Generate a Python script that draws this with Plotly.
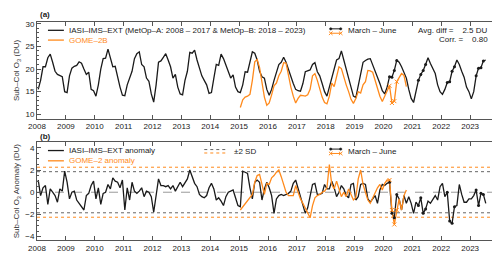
import plotly.graph_objects as go

# ---------------- data ----------------
years = list(range(2008, 2024))
iasi_start = 2008
gome_start = 2015

iasi_col = [
    15.5, 17.5, 20.5, 20.5, 22.5, 23.3, 21.5, 19.5, 18.8, 18.5, 18.3, 15.0,
    14.8, 18.5, 20.2, 20.6, 20.8, 21.6, 21.3, 20.0, 18.8, 19.3, 15.5, 15.2,
    14.0, 16.5, 20.0, 22.3, 22.4, 24.4, 22.5, 20.5, 20.6, 18.0, 16.0, 14.2,
    14.1, 16.5, 18.2, 19.5, 22.3, 23.4, 23.8, 21.0, 20.5, 18.0, 17.3, 14.5,
    12.7, 16.5, 21.5, 21.8, 22.6, 23.4, 22.0, 20.5, 18.0, 18.8, 16.0, 14.5,
    14.3, 17.5, 19.5, 23.7, 23.5, 24.2, 22.0, 20.2, 18.5, 17.5, 16.5, 14.6,
    14.8, 18.0, 21.0, 20.8, 23.3, 22.3, 21.0, 19.5, 18.0, 18.7, 16.0, 15.0,
    14.8, 16.5, 19.4, 19.3, 21.5, 23.8, 23.5, 22.0, 19.5, 18.3, 18.0, 15.5,
    14.2, 15.5, 17.5, 19.5, 21.0, 21.5, 22.6, 21.5, 19.8, 18.0, 16.8, 15.5,
    15.2, 15.1, 16.8, 19.4, 19.6, 19.8, 21.0, 21.4, 19.4, 18.5, 16.8, 15.0,
    14.0, 16.0, 18.0, 19.8, 22.0, 22.3, 24.0, 22.0, 19.7, 18.0, 16.0, 14.0,
    13.7, 16.5, 19.5, 21.5, 21.9, 22.2, 22.3, 21.0, 19.5, 18.0, 16.8, 15.2,
    14.5, 16.0, 18.3, 18.2, 19.7, 21.9, 21.5, 20.5, 19.3, 18.0, 15.5, 13.5,
    12.6, 15.0, 17.5, 18.8, 19.7, 21.0, 22.5, 21.2, 20.0, 19.0, 16.5, 15.0,
    14.4, 15.5, 17.0, 17.2, 19.5, 20.5, 22.0, 21.0, 19.5, 18.2, 16.0, 15.0,
    13.4, 15.0, 18.5, 20.2, 20.3, 21.8, 22.0,
]

gome_col = [
    11.5, 13.2, 13.8, 14.0, 14.4, 17.5, 21.6, 22.1, 20.3, 16.5, 13.8, 12.0,
    12.5, 14.3, 16.3, 16.9, 18.5, 19.5, 21.4, 21.3, 18.5, 16.0, 14.0, 12.5,
    13.5, 14.2, 14.1, 14.0, 14.3, 15.5, 18.5, 19.0, 17.5, 15.5, 13.8, 12.6,
    12.3, 14.0, 16.9, 16.1, 18.3, 20.5, 20.1, 18.0, 16.5, 15.0, 13.3, 12.4,
    13.5, 15.0, 14.7, 16.5, 17.2, 19.7, 19.6, 19.3, 17.5, 15.8, 14.0, 12.8,
    14.0, 15.4, 16.3, 12.5, 12.9, 17.2, 18.0, 19.0, 18.6, 16.1,
]

iasi_anom = [
    1.1, -0.3, 0.4, 0.6, -1.1, 0.3, 0.0, -0.3, -0.9, 0.3, 0.1, 1.9,
    0.9, -0.6, 0.0, 0.1, -0.7, -1.0, -1.3, -1.6, -0.3, -0.1, 0.6, 1.0,
    -0.6, 0.4, -1.1, -0.1, 0.0, 0.7, 0.3, 1.3, 1.0, 0.9, 0.4, 1.1,
    -1.6, 0.4, -0.7, 0.9, 0.1, -0.1, 0.1, 0.4, -0.4, 0.1, 0.0, -0.4,
    -1.8, -0.2, 1.2, 0.6, 0.6, 0.5, 0.6, 0.3, 0.6, 0.1, 0.5, 0.9,
    0.5, 0.9, 1.2, 2.0, 1.4, 0.8, 0.5, -0.2, -0.4, -0.5, -0.3, 0.4,
    0.8, 0.3, -0.7, -0.5, -0.8, -1.2, -0.4, 0.0, 0.1, 0.2, -0.5, -1.2,
    -1.3, 1.9, 1.8, 1.7, 0.4, -0.6, 0.9, 1.1, 0.9, -0.7, 0.3, 0.9,
    0.4, -0.3, -1.9, -0.6, -0.3, -0.2, -0.3, -0.2, -0.1, 0.1, 0.8, 1.1,
    0.3, -0.5, -1.2, -1.9, -1.4, -0.3, 0.7, 0.8, -0.2, -0.2, -0.1, 0.7,
    0.3, 0.3, 1.0, 0.4, -0.4, 0.0, 0.6, 0.3, -0.3, -0.5, 0.7, 0.8,
    -0.7, -0.4, 0.7, 0.8, 0.7, -0.6, -0.9, -0.6, -0.3, -1.0, 0.2, 0.7,
    0.6, 0.8, 0.9, -1.9, -2.3, -0.2, -0.6, -1.6, -0.3, -1.0, -0.4, -1.0,
    -1.9, -0.9, -1.2, -0.5, -1.9, -1.5, -0.8, -1.0, -0.7, -0.3, -0.7, 0.5,
    0.8, -0.4, 0.0, -2.6, -2.8, -1.3, -1.2, 0.7, -0.2, -0.9, -0.9, -0.6,
    -0.6, -0.3, 0.2, -1.2, -0.1, -0.2, -1.0,
]

gome_anom = [
    -1.6, -1.3, -1.0, -0.7, -0.5, -0.2, 0.9, 1.5, 1.6, 0.6, -0.2, 0.8,
    0.7, 1.3, 1.5, 1.8, 2.0, 1.4, 0.7, 0.0, -0.3, -0.3, -0.3, 0.6,
    -0.1, -0.6, -1.0, -1.4, -1.8, -2.3, -1.2, -0.5, -0.3, -0.2, 0.0, 0.1,
    0.4, 2.5, 0.7, 0.3, 1.0, 0.3, -0.4, 0.0, -0.4, 0.3, -0.3, -0.7,
    -0.5, 1.2, 2.0, 0.7, 0.0, -0.7, -1.0, -0.5, 0.0, 0.4, 0.7, 0.2,
    0.8, 1.1, 1.1, -1.6, -2.9, -1.6, -0.6, -1.6, -0.3, 0.2,
]

sd2_iasi = 1.85
sd2_gome = 2.25
avg_diff = 2.5
corr = 0.80
mj_years_iasi = [2020, 2021, 2022, 2023]
mj_years_gome = [2020]

# ---------------- helpers ----------------
def times(start, n):
    return [start + (i + 0.5) / 12.0 for i in range(n)]

def mar_jun(start, vals, yrs):
    xs, ys = [], []
    for i, v in enumerate(vals):
        yr = start + i // 12
        m = i % 12
        if yr in yrs and 2 <= m <= 5:
            xs.append(start + (i + 0.5) / 12.0)
            ys.append(v)
    return xs, ys

BLACK = "#1a1a1a"
ORANGE = "#ff8a1c"
GRAYD = "#666666"
FONT = "Liberation Sans"

fig = go.Figure()

def add_panel(xa, ya, iv, gv):
    ti = times(iasi_start, len(iv))
    tg = times(gome_start, len(gv))
    fig.add_trace(go.Scatter(x=ti, y=iv, mode="lines", line=dict(color=BLACK, width=1.3),
                             xaxis=xa, yaxis=ya, showlegend=False))
    fig.add_trace(go.Scatter(x=tg, y=gv, mode="lines", line=dict(color=ORANGE, width=1.3),
                             xaxis=xa, yaxis=ya, showlegend=False))
    mx, my = mar_jun(iasi_start, iv, mj_years_iasi)
    fig.add_trace(go.Scatter(x=mx, y=my, mode="markers", marker=dict(color=BLACK, size=3),
                             xaxis=xa, yaxis=ya, showlegend=False))
    gx, gy = mar_jun(gome_start, gv, mj_years_gome)
    fig.add_trace(go.Scatter(x=gx, y=gy, mode="markers",
                             marker=dict(color=ORANGE, size=4, symbol="x-thin", line=dict(color=ORANGE, width=1)),
                             xaxis=xa, yaxis=ya, showlegend=False))

add_panel("x", "y", iasi_col, gome_col)
add_panel("x2", "y2", iasi_anom, gome_anom)

shapes = []
for v, c in [(sd2_iasi, GRAYD), (-sd2_iasi, GRAYD), (sd2_gome, ORANGE), (-sd2_gome, ORANGE)]:
    shapes.append(dict(type="line", xref="x2 domain", yref="y2", x0=0, x1=1, y0=v, y1=v,
                       line=dict(color=c, width=1, dash="dot"), layer="below"))
shapes.append(dict(type="line", xref="x2 domain", yref="y2", x0=0, x1=1, y0=0, y1=0,
                   line=dict(color="#999999", width=1, dash="dash"), layer="below"))

annotations = []

def txt(x, y, s, color=BLACK, xanchor="left", size=8):
    annotations.append(dict(x=x, y=y, xref="paper", yref="paper", text=s, showarrow=False,
                            xanchor=xanchor, yanchor="middle", font=dict(family=FONT, size=size, color=color)))

L, R, T, B = 28, 8, 14, 16
W, H = 500 - L - R, 253 - T - B
def px(x):
    return (x - L) / W
def py(y):
    return (253 - B - y) / H

def seg(x0, x1, y0, y1, color, dash="solid", width=1.3):
    shapes.append(dict(type="line", xref="paper", yref="paper", x0=px(x0), x1=px(x1), y0=py(y0), y1=py(y1),
                       line=dict(color=color, width=width, dash=dash)))

def dot(x, y, color):
    shapes.append(dict(type="circle", xref="paper", yref="paper", x0=px(x - 1.2), x1=px(x + 1.2),
                       y0=py(y + 1.2), y1=py(y - 1.2), fillcolor=color, line=dict(color=color, width=0.5)))

def cross(x, y, color):
    seg(x - 1.8, x + 1.8, y - 1.8, y + 1.8, color, width=1)
    seg(x - 1.8, x + 1.8, y + 1.8, y - 1.8, color, width=1)

def mj_symbol(y):
    seg(323, 333, y - 2, y - 2, BLACK, width=1)
    seg(323, 333, y + 2.5, y + 2.5, ORANGE, width=1)
    for xx in (323, 333):
        dot(xx, y - 2, BLACK)
        cross(xx, y + 2.5, ORANGE)
    txt(px(338), py(y), "March \u2013 June")

# panel a
txt(px(29), py(6), "<b>(a)</b>", size=8)
seg(39, 55, 22.5, 22.5, BLACK)
txt(px(58), py(22.5), "IASI\u2013IMS\u2013EXT (MetOp\u2013A: 2008 \u2013 2017 & MetOp\u2013B: 2018 \u2013 2023)")
seg(39, 55, 32.5, 32.5, ORANGE)
txt(px(58), py(32.5), "GOME\u20132B", color=ORANGE)
mj_symbol(23)
txt(px(483), py(22.5), "Avg. diff =    %.1f DU" % avg_diff, xanchor="right")
txt(px(483), py(32), "Corr. =    %.2f" % corr, xanchor="right")

# panel b
txt(px(29), py(131), "<b>(b)</b>", size=8)
seg(39, 55, 145.5, 145.5, BLACK)
txt(px(58), py(145.5), "IASI\u2013IMS\u2013EXT anomaly")
seg(39, 55, 156, 156, ORANGE)
txt(px(58), py(156), "GOME\u20132 anomaly", color=ORANGE)
seg(196, 220, 144.5, 144.5, GRAYD, dash="dot", width=1)
seg(196, 220, 148, 148, ORANGE, dash="dot", width=1)
txt(px(224), py(146), "\u00b12 SD")
mj_symbol(146)

fig.update_layout(
    width=500, height=253,
    margin=dict(l=L, r=R, t=T, b=B),
    paper_bgcolor="white", plot_bgcolor="white",
    font=dict(family=FONT, size=8, color=BLACK),
    shapes=shapes, annotations=annotations,
    showlegend=False,
)

axis_common = dict(showgrid=False, zeroline=False, showline=True, linecolor="#555555", linewidth=1,
                   mirror="ticks", ticks="inside", tickcolor="#555555", ticklen=4,
                   tickfont=dict(family=FONT, size=8, color=BLACK))

fig.update_layout(
    xaxis=dict(axis_common, domain=[0, 1], anchor="y", range=[2008, 2024], tickvals=years,
               ticktext=[str(y) for y in years]),
    yaxis=dict(axis_common, domain=[py(113), 1], anchor="x", range=[9, 30.4], tickvals=[10, 15, 20, 25, 30],
               minor=dict(dtick=1, ticks="inside", ticklen=2, tickcolor="#555555"),
               title=dict(text="Sub\u2013Col O<sub>3</sub> (DU)", standoff=4,
                          font=dict(family=FONT, size=8, color="#333333"))),
    xaxis2=dict(axis_common, domain=[0, 1], anchor="y2", range=[2008, 2024], tickvals=years,
                ticktext=[str(y) for y in years]),
    yaxis2=dict(axis_common, domain=[0, py(137)], anchor="x2", range=[-4.3, 4.5], tickvals=[-4, -2, 0, 2, 4],
                minor=dict(dtick=0.5, ticks="inside", ticklen=2, tickcolor="#555555"),
                title=dict(text="Sub\u2013Col O<sub>3</sub> Anomaly (DU)", standoff=4,
                           font=dict(family=FONT, size=8, color="#333333"))),
)

fig.write_html("out.html")
